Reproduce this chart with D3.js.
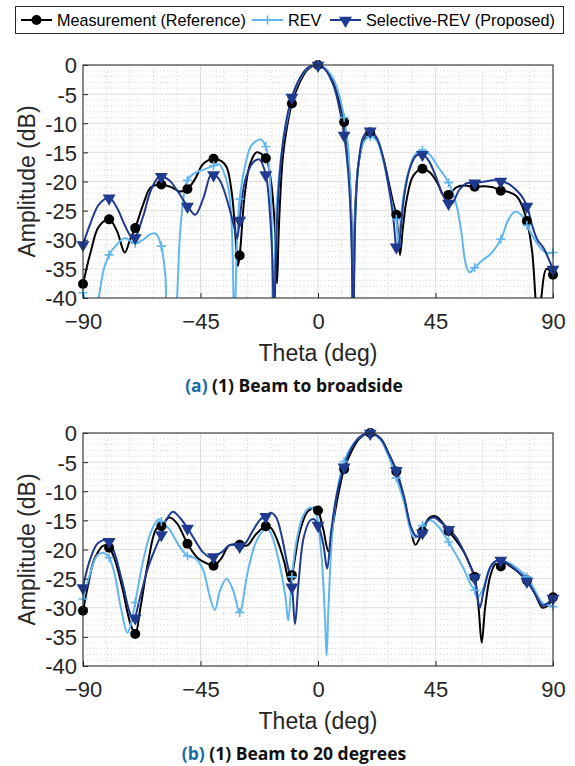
<!DOCTYPE html>
<html>
<head>
<meta charset="utf-8">
<script src="https://cdn.jsdelivr.net/npm/d3@7"></script>
<style>
  html, body { margin: 0; padding: 0; background: #fff; }
  svg { display: block; }
</style>
</head>
<body>
<svg id="chart" width="575" height="766"></svg>
<script>
// series names and colours
const seriesNames = ['Measurement (Reference)', 'REV', 'Selective-REV (Proposed)'];
const xTicks = [-90, -45, 0, 45, 90];
const yTicks = [0, -5, -10, -15, -20, -25, -30, -35, -40];
const markerStep = 10;

// (a) beam to broadside: [theta, dB]
const measA = [[-90,-37.6],[-87,-32],[-84,-27.8],[-80,-26.5],[-77,-28.5],[-74,-32.2],[-72,-30],[-70,-28],[-67,-24],[-64,-21],[-60,-20.5],[-56,-21],[-53,-21.7],[-50,-21.3],[-47,-19.5],[-44,-17],[-40,-16.1],[-37,-16.5],[-35,-17.5],[-33,-22],[-31.5,-30],[-30.7,-34.5],[-30,-32.7],[-28,-22],[-26,-17],[-23.5,-15],[-20,-16],[-18,-20],[-16.5,-28],[-15.7,-37.5],[-15,-28],[-13.5,-16],[-12,-11],[-10,-6.6],[-7,-3],[-4,-0.8],[0,0],[3,-0.8],[6,-3],[8,-6],[10,-9.8],[11.5,-15],[12.7,-25],[13.5,-45],[14.2,-25],[15.5,-17],[17.5,-13],[20,-11.6],[22.5,-12.8],[25,-16],[27.5,-21],[29,-24],[30,-25.7],[31.4,-32.6],[32.5,-28],[34,-23],[36.5,-19],[40,-17.8],[43,-18.5],[46,-20.5],[48,-22.3],[50,-22.3],[53,-21],[56,-20.7],[60,-20.9],[64,-20.8],[67,-21],[70,-21.6],[73,-21.8],[76,-22.5],[78,-24],[80,-26.8],[82,-32],[83.3,-40],[84.3,-45],[85.5,-40],[87.5,-35],[90,-36]];
const revA = [[-90,-39.1],[-88.5,-42],[-87,-45],[-85,-42],[-84,-40],[-82,-35],[-80,-32.6],[-77,-30.8],[-74,-29.7],[-72,-30.2],[-70,-30.6],[-67,-30],[-64,-29],[-62,-29],[-60,-31.1],[-58.5,-36],[-57,-45],[-55,-45],[-54,-40],[-52.5,-27],[-50,-19.8],[-47,-18.5],[-44,-18],[-40,-17.3],[-38,-17],[-36,-18.5],[-34,-22],[-33,-28],[-32,-45],[-31,-30],[-30,-23],[-28,-17.5],[-25.5,-13.8],[-22,-12.8],[-20,-14],[-18.5,-19],[-17.7,-28],[-17.2,-45],[-15.8,-24],[-13.5,-13.5],[-12,-9.8],[-10,-5.8],[-7,-2.5],[-4,-0.6],[0,0],[3,-0.7],[6,-2.5],[8,-5],[10,-9],[11.5,-14],[12.7,-25],[13.5,-45],[14.3,-25],[15.5,-17],[17.5,-13.2],[20,-12.3],[22.5,-13],[25,-16.5],[27.5,-22],[29,-25],[30,-26.5],[30.8,-31],[32,-25],[34,-19.5],[37,-15.5],[40,-14.6],[43,-15.5],[46,-17.5],[50,-20.2],[53,-24],[55,-29],[56.5,-34],[58,-35.6],[60,-34.8],[63,-33.5],[66,-32.5],[70,-29.9],[73,-26.5],[75.5,-25.2],[78,-25.8],[80,-27.5],[83,-30],[86,-31.8],[88,-32.3],[90,-32.2]];
const selA = [[-90,-30.8],[-87,-27],[-84,-24],[-80,-22.8],[-77,-24.5],[-74,-27.5],[-71,-29.8],[-70,-29.6],[-67,-26],[-64,-21.5],[-61,-19.2],[-60,-19.1],[-57,-19.8],[-54,-21.5],[-50,-24.2],[-47,-25.7],[-44,-23],[-41,-18.8],[-40,-18.8],[-38,-19.5],[-36,-21.5],[-34,-24.5],[-32,-28],[-31,-29.8],[-30,-26.6],[-28,-20],[-25,-16.8],[-22.5,-16.2],[-20,-18.8],[-18.5,-25],[-17.5,-33],[-16.8,-45],[-16,-30],[-14.5,-18],[-12.5,-10.5],[-10,-5.5],[-7,-2.3],[-4,-0.5],[0,0],[3,-0.9],[6,-3.6],[8,-7],[10,-12],[11.5,-18],[12.7,-28],[13.5,-45],[14.3,-26],[15.5,-17],[17.5,-12.2],[20,-11.3],[22.5,-12.5],[25,-16],[27.5,-22],[29,-27],[30,-31.2],[30.7,-31.8],[31.5,-29],[33,-22.5],[35,-18],[37.5,-15.6],[40,-15.3],[42.5,-16.5],[45,-19],[48,-22.5],[50,-23.7],[51.5,-23.7],[54,-21.5],[57,-20.3],[60,-20.2],[64,-20],[67,-19.8],[70,-19.9],[73,-20.4],[76,-21.5],[78,-22.5],[80,-24.2],[82,-27.5],[84,-30],[86.5,-31.5],[88.5,-33.5],[90,-35]];

// (b) beam to 20 degrees
const measB = [[-90,-30.5],[-88,-26],[-85.5,-21.5],[-82,-19.3],[-80,-19.7],[-78,-21.5],[-75,-26.5],[-72,-32.5],[-70,-34.5],[-68,-30],[-65,-22],[-62,-16.5],[-60,-16],[-57,-14.5],[-54,-15.5],[-50,-19],[-46,-21.5],[-42,-22.5],[-40,-22.8],[-37,-21.5],[-34,-19.3],[-30,-19.2],[-27,-19.3],[-24,-17.5],[-20,-16],[-18,-16.3],[-15.5,-18.5],[-13,-22],[-11,-25.5],[-10,-24.4],[-7,-17],[-4,-13.5],[-1,-12.8],[0,-13.3],[2,-16.5],[4,-20.3],[6,-15],[8,-10],[10,-6.2],[13,-3],[16,-0.9],[20,0],[24,-1],[27,-3.5],[30,-6.6],[33,-11.5],[35.5,-16.5],[37.3,-19.2],[40,-16.9],[42.5,-14.6],[45,-14.3],[47.5,-15.3],[50,-16.8],[53,-18.5],[56,-20.5],[58.5,-23],[60,-24.7],[61.5,-30],[62.7,-36],[64,-30],[66,-24.5],[68,-22.5],[70,-22.9],[71,-22.2],[74,-23],[77,-24],[80,-25.3],[83,-27.5],[86,-30],[88,-29.6],[90,-28.2]];
const revB = [[-90,-28.5],[-87.5,-24.5],[-84.5,-21],[-82,-20.6],[-80,-21.4],[-78,-24],[-75.5,-30],[-73,-34.3],[-71.5,-32.5],[-70,-29.1],[-67,-22],[-64,-17],[-61,-14.8],[-60,-15.2],[-57,-16.5],[-53,-19.5],[-50,-21.1],[-47,-21.5],[-44,-23.5],[-41.5,-28],[-39.5,-30.4],[-37.5,-27],[-35,-25],[-32.5,-27],[-30,-30.8],[-27,-24],[-24,-19],[-21,-16.8],[-19,-16.6],[-17,-18.5],[-14.5,-23],[-12.5,-28],[-11.4,-32.2],[-10,-24.7],[-8,-18],[-5.5,-14],[-3,-12.8],[-1,-13.5],[0,-15.5],[1.5,-22],[2.7,-32],[3.3,-38.2],[4,-30],[5.5,-17],[7.5,-9.5],[10,-4.9],[13,-2.2],[16,-0.7],[20,0],[24,-1.2],[27,-4],[30,-7.7],[33,-12],[35.5,-16.8],[37,-18],[40,-15.9],[43,-15],[46,-16],[50,-18.7],[53,-21],[56,-23.5],[58.5,-26],[60,-27],[61,-28.3],[63,-27],[65.5,-23.5],[68,-22],[71,-22],[74,-22.5],[77,-23.5],[80,-24.7],[83,-27],[86,-29.2],[88,-29.5],[90,-29.8]];
const selB = [[-90,-26.5],[-87.5,-22],[-84.5,-19],[-81,-18.3],[-80,-18.6],[-78,-20.5],[-75,-25.5],[-72,-31],[-70.5,-32.3],[-70,-31.7],[-68,-28],[-65,-23],[-62,-19.5],[-60,-17.4],[-58,-14.8],[-55.5,-13.5],[-53,-14.5],[-50,-16.3],[-47,-18.5],[-44,-20.5],[-41,-21.4],[-40,-21.2],[-37,-20.5],[-34,-19.3],[-32,-19.2],[-30,-19.4],[-28,-19],[-25,-16.8],[-22,-14.8],[-20,-14.3],[-18,-13.7],[-16,-14.5],[-14,-17.5],[-12,-22],[-10,-26.4],[-8.8,-32.8],[-7.5,-26],[-5.5,-18],[-3,-15],[-1.5,-14.8],[0,-15.8],[2,-19],[3.5,-23.3],[5,-17],[7,-11],[10,-5.8],[13,-2.5],[16,-0.7],[20,0],[24,-1],[27,-3.5],[30,-6.4],[33,-11],[35.5,-16],[37.8,-17.8],[40,-17.1],[42,-15],[44.5,-14.5],[47,-15.3],[50,-16.5],[53,-18],[56,-20.5],[58.5,-23],[60,-24.8],[61,-28],[62,-30],[63.5,-27],[66,-23],[68,-22],[70,-21.8],[73,-22.5],[77,-24],[80,-25.4],[83,-27.5],[86,-29.6],[88,-29.2],[90,-28.3]];

const colors = ['#000000', '#62b6f0', '#1f3a8f'];
const markers = ['circle', 'plus', 'triangle'];

const svg = d3.select('#chart');
const axisFont = '"Liberation Sans", Arial, Helvetica, sans-serif';

function drawMarker(g, type, color, x, y) {
  if (type === 'circle') {
    g.append('circle').attr('cx', x).attr('cy', y).attr('r', 5).attr('fill', color);
  } else if (type === 'plus') {
    g.append('path')
      .attr('d', `M${x - 4.5},${y}H${x + 4.5}M${x},${y - 4.5}V${y + 4.5}`)
      .attr('stroke', color).attr('stroke-width', 1.6).attr('fill', 'none');
  } else {
    g.append('path')
      .attr('d', d3.symbol().type(d3.symbolTriangle).size(72)())
      .attr('transform', `translate(${x},${y + 0.5}) rotate(180)`)
      .attr('fill', color);
  }
}

function drawPanel(top, data, id, captionTag, captionText) {
  const margin = { left: 83, right: 22 };
  const height = 233;
  const x = d3.scaleLinear().domain([-90, 90]).range([margin.left, 575 - margin.right]);
  const y = d3.scaleLinear().domain([-40, 0]).range([top + height, top]);
  const g = svg.append('g');

  // grid
  const minorX = d3.range(-90, 91, 9).filter((d) => d % 45 !== 0);
  const minorY = d3.range(-40, 1, 1).filter((d) => d % 5 !== 0);
  g.selectAll('.mx').data(minorX).enter().append('line')
    .attr('x1', (d) => x(d)).attr('x2', (d) => x(d)).attr('y1', y(0)).attr('y2', y(-40))
    .attr('stroke', '#c8c8c8').attr('stroke-width', 0.8).attr('stroke-dasharray', '1,2.5');
  g.selectAll('.my').data(minorY).enter().append('line')
    .attr('x1', x(-90)).attr('x2', x(90)).attr('y1', (d) => y(d)).attr('y2', (d) => y(d))
    .attr('stroke', '#c8c8c8').attr('stroke-width', 0.8).attr('stroke-dasharray', '1,2.5');
  g.selectAll('.gx').data(xTicks).enter().append('line')
    .attr('x1', (d) => x(d)).attr('x2', (d) => x(d)).attr('y1', y(0)).attr('y2', y(-40))
    .attr('stroke', '#dedede').attr('stroke-width', 1);
  g.selectAll('.gy').data(yTicks).enter().append('line')
    .attr('x1', x(-90)).attr('x2', x(90)).attr('y1', (d) => y(d)).attr('y2', (d) => y(d))
    .attr('stroke', '#dedede').attr('stroke-width', 1);

  // clip
  svg.append('clipPath').attr('id', id)
    .append('rect').attr('x', x(-90)).attr('y', y(0)).attr('width', x(90) - x(-90)).attr('height', height);

  const line = d3.line().x((d) => x(d[0])).y((d) => y(d[1])).curve(d3.curveCatmullRom.alpha(0.5));
  const plot = g.append('g').attr('clip-path', `url(#${id})`);
  data.forEach((s, i) => {
    plot.append('path').datum(s).attr('d', line)
      .attr('fill', 'none').attr('stroke', colors[i]).attr('stroke-width', 2);
  });
  const mk = g.append('g');
  data.forEach((s, i) => {
    s.filter((d) => d[0] % markerStep === 0 && d[1] >= -40).forEach((d) => {
      drawMarker(mk, markers[i], colors[i], x(d[0]), y(d[1]));
    });
  });

  // axes
  const xAxis = d3.axisBottom(x).tickValues(xTicks).tickSize(-5).tickPadding(15).tickFormat(d3.format('d'));
  const yAxis = d3.axisLeft(y).tickValues(yTicks).tickSize(-5).tickPadding(6).tickFormat((d) => (d === 0 ? '0' : String(d)));
  const gx = g.append('g').attr('transform', `translate(0,${top + height})`).call(xAxis);
  const gy = g.append('g').attr('transform', `translate(${margin.left},0)`).call(yAxis);
  [gx, gy].forEach((a) => {
    a.select('.domain').remove();
    a.selectAll('line').attr('stroke', '#262626');
    a.selectAll('text').attr('fill', '#262626').style('font-family', axisFont).style('font-size', '22px');
  });
  gy.selectAll('text').attr('dy', '0.36em');
  g.append('rect').attr('x', x(-90)).attr('y', y(0)).attr('width', x(90) - x(-90)).attr('height', height)
    .attr('fill', 'none').attr('stroke', '#262626').attr('stroke-width', 1);

  g.append('text').attr('x', (x(-90) + x(90)) / 2).attr('y', top + height + 63)
    .attr('text-anchor', 'middle').attr('fill', '#262626')
    .style('font-family', axisFont).style('font-size', '23px').text('Theta (deg)');
  g.append('text').attr('transform', `translate(35,${top + height / 2}) rotate(-90)`)
    .attr('text-anchor', 'middle').attr('fill', '#262626')
    .style('font-family', axisFont).style('font-size', '23px').text('Amplitude (dB)');

  const cap = g.append('text').attr('x', (x(-90) + x(90)) / 2 - 24).attr('y', top + height + 94)
    .attr('text-anchor', 'middle').style('font-family', '"Open Sans", sans-serif')
    .style('font-weight', 700).style('font-size', '17.5px');
  cap.append('tspan').attr('fill', '#1b6aa5').text(captionTag);
  cap.append('tspan').attr('fill', '#111').text(' ' + captionText);
}

drawPanel(65, [measA, revA, selA], 'clipA', '(a)', '(1) Beam to broadside');
drawPanel(433, [measB, revB, selB], 'clipB', '(b)', '(1) Beam to 20 degrees');

// legend
const legend = svg.append('g');
legend.append('rect').attr('x', 15.5).attr('y', 6.5).attr('width', 548).attr('height', 27)
  .attr('fill', '#fff').attr('stroke', '#262626').attr('stroke-width', 1);
const legendX = [21, 252, 330];
seriesNames.forEach((name, i) => {
  const lx = legendX[i];
  legend.append('line').attr('x1', lx).attr('x2', lx + 31).attr('y1', 20).attr('y2', 20)
    .attr('stroke', colors[i]).attr('stroke-width', 2);
  drawMarker(legend, markers[i], colors[i], lx + 15.5, 20);
  legend.append('text').attr('x', lx + 36).attr('y', 25.5).attr('fill', '#000')
    .style('font-family', axisFont).style('font-size', '16.2px').text(name);
});
</script>
</body>
</html>
